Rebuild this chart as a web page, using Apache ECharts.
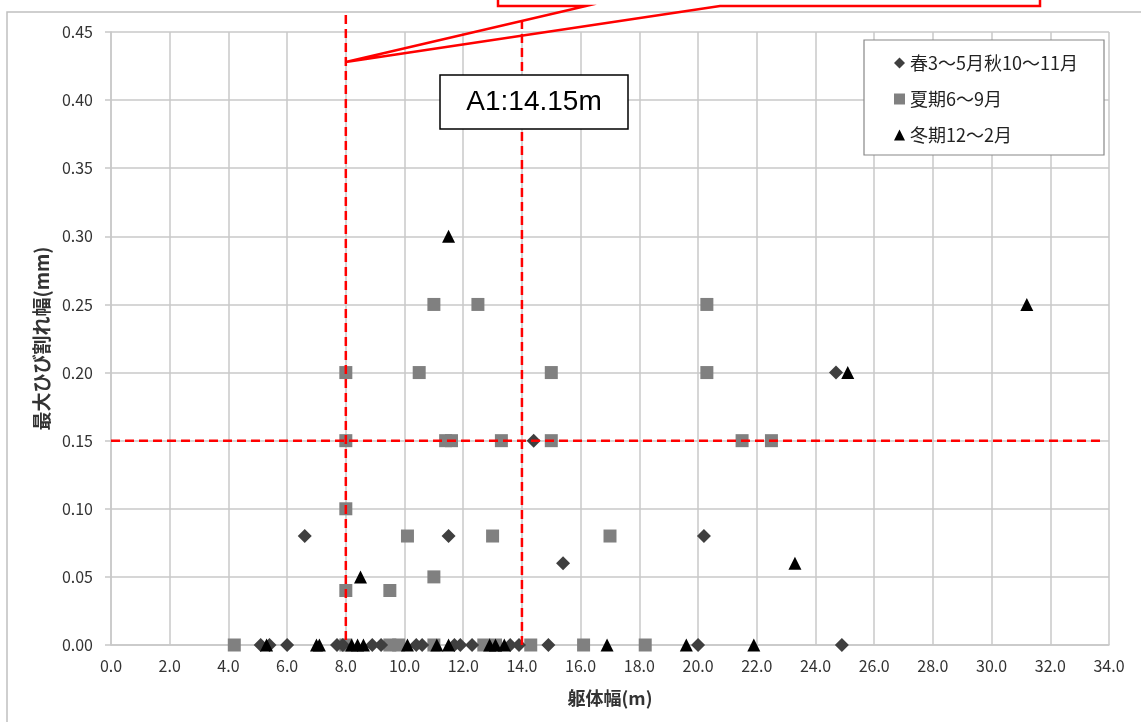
<!DOCTYPE html>
<html><head><meta charset="utf-8">
<script src="https://cdn.jsdelivr.net/npm/echarts@6/dist/echarts.min.js"></script>
<style>html,body{margin:0;padding:0;background:#fff}#c{width:1141px;height:722px}</style>
</head><body><div id="c"></div>
<script>
const seriesNames = ['春3～5月秋10～11月', '夏期6～9月', '冬期12～2月'];
// [x (m), y (mm)]
const springAutumn = [
  [6.6,0.08],[11.5,0.08],[15.4,0.06],[20.2,0.08],[24.7,0.20],[14.4,0.15],
  [5.1,0],[5.4,0],[6.0,0],[7.7,0],[7.9,0],[8.9,0],[9.2,0],[10.4,0],[10.6,0],[11.7,0],[11.9,0],
  [12.3,0],[13.6,0],[13.9,0],[14.9,0],[20.0,0],[24.9,0]
];
const summer = [
  [8.0,0.20],[8.0,0.15],[8.0,0.10],[8.0,0.04],[11.0,0.25],[12.5,0.25],[10.5,0.20],[15.0,0.20],
  [11.4,0.15],[11.6,0.15],[13.3,0.15],[15.0,0.15],[10.1,0.08],[11.0,0.05],[9.5,0.04],[13.0,0.08],
  [17.0,0.08],[20.3,0.25],[20.3,0.20],[21.5,0.15],[22.5,0.15],
  [4.2,0],[8.0,0],[9.5,0],[9.8,0],[11.0,0],[12.7,0],[13.1,0],[14.3,0],[16.1,0],[18.2,0]
];
const winter = [
  [11.5,0.30],[8.5,0.05],[25.1,0.20],[31.2,0.25],[23.3,0.06],
  [5.3,0],[7.0,0],[7.1,0],[8.2,0],[8.4,0],[8.6,0],[10.1,0],[11.1,0],[11.5,0],
  [12.9,0],[13.1,0],[13.4,0],[16.9,0],[19.6,0],[21.9,0]
];
const xMin = 0, xMax = 34, xStep = 2;
const yMin = 0, yMax = 0.45, yStep = 0.05;
const refX1 = 8.0, refX2 = 14.0, refY = 0.15;
const calloutTipY = 0.428;
const boxLabel = 'A1:14.15m';

const FONT = '"Noto Sans CJK JP", "Noto Sans", sans-serif';
const chart = echarts.init(document.getElementById('c'), null, {renderer:'canvas'});
const option = {
  animation:false,
  backgroundColor:'#fff',
  grid:{left:111,right:32,top:32,bottom:77,containLabel:false},
  xAxis:{type:'value',min:xMin,max:xMax,interval:xStep,
    name:'躯体幅(m)',nameLocation:'middle',nameGap:44,
    nameTextStyle:{fontFamily:FONT,fontSize:18,fontWeight:'bold',color:'#333'},
    axisLine:{show:true,lineStyle:{color:'#c8c8c8',width:1.5}},
    axisTick:{show:false},
    axisLabel:{formatter:v=>v.toFixed(1),fontFamily:FONT,fontSize:16,color:'#333',margin:13},
    splitLine:{show:true,lineStyle:{color:'#c8c8c8',width:1.5}}},
  yAxis:{type:'value',min:yMin,max:yMax,interval:yStep,
    name:'最大ひび割れ幅(mm)',nameLocation:'middle',nameGap:57,nameRotate:90,
    nameTextStyle:{fontFamily:FONT,fontSize:19,fontWeight:'bold',color:'#333'},
    axisLine:{show:true,lineStyle:{color:'#c8c8c8',width:1.5}},
    axisTick:{show:true,length:6,lineStyle:{color:'#c8c8c8',width:1.5}},
    axisLabel:{formatter:v=>v.toFixed(2),fontFamily:FONT,fontSize:16,color:'#333',margin:18},
    splitLine:{show:true,lineStyle:{color:'#c8c8c8',width:1.5}}},
  legend:{orient:'vertical',left:889,top:49,itemGap:18,itemWidth:11,itemHeight:11,z:10,
    textStyle:{fontFamily:FONT,fontSize:18,color:'#222'},
    data:[{name:seriesNames[0],icon:'diamond'},{name:seriesNames[1],icon:'rect'},{name:seriesNames[2],icon:'triangle'}]},
  series:[
    {name:seriesNames[0],type:'scatter',symbol:'diamond',symbolSize:14,data:springAutumn,itemStyle:{color:'#3f3f3f',opacity:1},z:5},
    {name:seriesNames[1],type:'scatter',symbol:'rect',symbolSize:13,data:summer,itemStyle:{color:'#808080',opacity:1},z:4},
    {name:seriesNames[2],type:'scatter',symbol:'triangle',symbolSize:13,data:winter,itemStyle:{color:'#000',opacity:1},z:6}
  ]
};
chart.setOption(option);

const px = (x,y)=>chart.convertToPixel({gridIndex:0},[x,y]);
const pX1a = px(refX1,yMax), pX1b = px(refX1,yMin);
const pX2b = px(refX2,yMin);
const pYa = px(xMin,refY), pYb = px(xMax,refY);
const tip = px(refX1,calloutTipY);
const dash = {stroke:'#ff0000',lineWidth:2.5,lineDash:[9,5]};
chart.setOption({graphic:[
  {type:'rect',shape:{x:7,y:12,width:1145,height:720},style:{fill:null,stroke:'#c0c0c0',lineWidth:1.5},z:0,silent:true},
  {type:'line',shape:{x1:pX1a[0],y1:15,x2:pX1b[0],y2:pX1b[1]},style:dash,z:20},
  {type:'line',shape:{x1:pX2b[0],y1:20,x2:pX2b[0],y2:pX2b[1]},style:dash,z:20},
  {type:'line',shape:{x1:pYa[0],y1:pYa[1],x2:pYb[0]-4,y2:pYb[1]},style:dash,z:20},
  {type:'polyline',shape:{points:[[498,-10],[498,6],[586,6],[tip[0],tip[1]],[720,6],[1040,6],[1040,-10]]},
    style:{fill:null,stroke:'#ff0000',lineWidth:2.5},z:21},
  {type:'rect',shape:{x:864,y:40,width:240,height:115},style:{fill:'#fff',stroke:'#888',lineWidth:1.2},z:8},
  {type:'rect',shape:{x:440,y:75,width:188,height:54},style:{fill:'#fff',stroke:'#000',lineWidth:1.5},z:22},
  {type:'text',x:534,y:102,style:{text:boxLabel,font:'28px "Liberation Sans", Arial, sans-serif',fill:'#000',align:'center',verticalAlign:'middle'},z:23}
]});
</script></body></html>
